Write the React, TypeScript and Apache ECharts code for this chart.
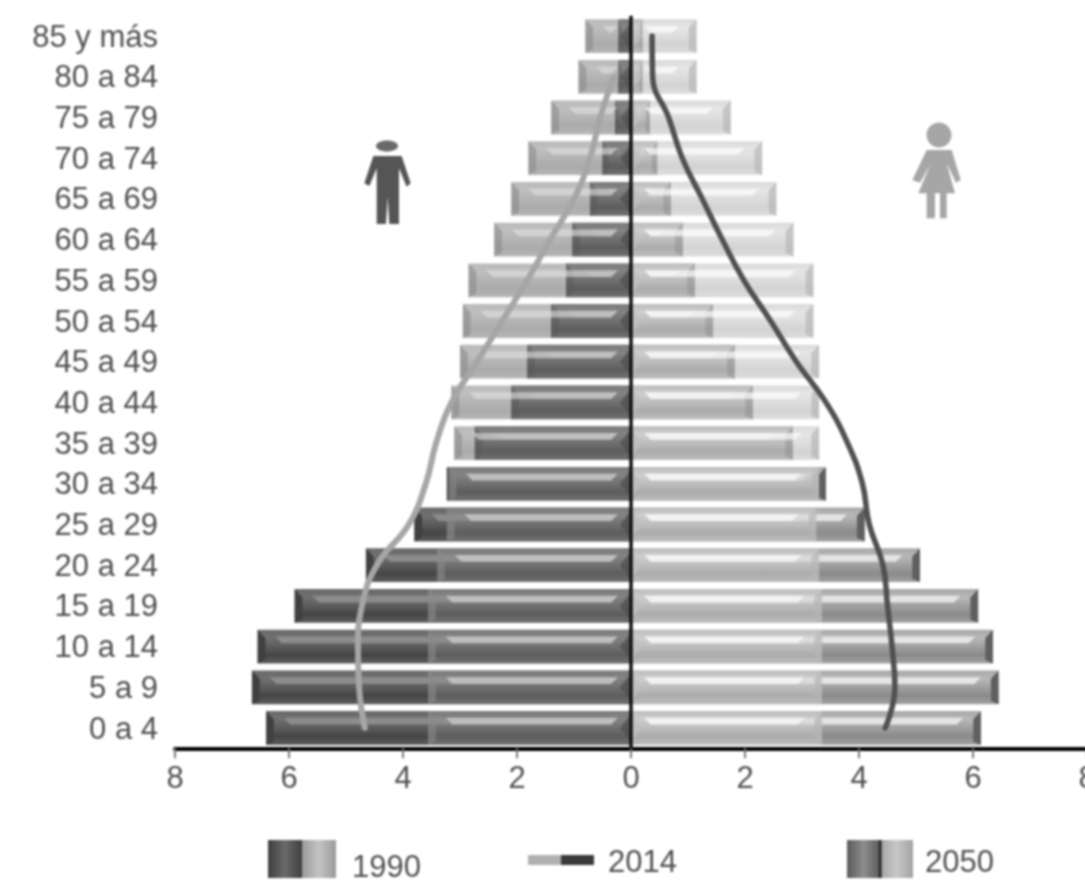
import React, { useEffect, useRef } from "react";
import * as echarts from "echarts";

const categories = ["0 a 4","5 a 9","10 a 14","15 a 19","20 a 24","25 a 29","30 a 34","35 a 39","40 a 44","45 a 49","50 a 54","55 a 59","60 a 64","65 a 69","70 a 74","75 a 79","80 a 84","85 y más"];
const male1990 = [6.4,6.65,6.55,5.9,4.65,3.8,3.23,2.74,2.1,1.82,1.4,1.14,1.03,0.72,0.5,0.28,0.22,0.22];
const female1990 = [6.14,6.45,6.35,6.09,5.07,4.1,3.42,2.84,2.14,1.82,1.44,1.12,0.91,0.7,0.46,0.33,0.2,0.2];
const male2050 = [3.56,3.56,3.56,3.56,3.4,3.23,3.2,3.1,3.15,3.0,2.95,2.85,2.4,2.1,1.8,1.4,0.92,0.8];
const female2050 = [3.35,3.35,3.35,3.35,3.3,3.25,3.3,3.3,3.3,3.3,3.2,3.2,2.85,2.55,2.3,1.75,1.15,1.15];
const male2014 = [4.67,4.77,4.79,4.72,4.46,3.9,3.6,3.42,3.15,2.7,2.26,1.82,1.42,1.0,0.72,0.54,0.3];
const female2014 = [4.46,4.63,4.58,4.5,4.42,4.18,4.06,3.8,3.42,2.9,2.45,1.98,1.6,1.25,0.9,0.66,0.38,0.37];
const xTicks = { min: -8, max: 8, interval: 2 };

const FONT = "Liberation Sans";
const TEXT = "#505050";

type Look = { stops: string[]; hi: string; cap: string; inner: string; opacity: number };
const looks: Record<string, Look> = {
  m1990: { stops: ["#6a6a6a", "#707070", "#5c5c5c", "#454545", "#5e5e5e"], hi: "#8c8c8c", cap: "#404040", inner: "#3c3c3c", opacity: 1 },
  f1990: { stops: ["#a8a8a8", "#b8b8b8", "#a0a0a0", "#8a8a8a", "#a2a2a2"], hi: "#e4e4e4", cap: "#5f5f5f", inner: "#8a8a8a", opacity: 1 },
  m2050: { stops: ["#8a8a8a", "#909090", "#7e7e7e", "#6e6e6e", "#828282"], hi: "#e2e2e2", cap: "#8a8a8a", inner: "#505050", opacity: 0.58 },
  f2050: { stops: ["#c8c8c8", "#d8d8d8", "#cccccc", "#bcbcbc", "#cccccc"], hi: "#ffffff", cap: "#b4b4b4", inner: "#c4c4c4", opacity: 0.66 },
};

const bevelBar = (look: Look) => (_: any, api: any) => {
  const v = api.value(0);
  const cat = api.value(1);
  const [x1, yc] = api.coord([v, cat]);
  const [x0] = api.coord([0, cat]);
  const h = api.size([0, 1])[1] * 0.83;
  const y0 = yc - h / 2;
  const y1 = yc + h / 2;
  const s = v < 0 ? -1 : 1;
  const w = Math.abs(x1 - x0);
  const b = Math.min(11, w * 0.3);
  const style = { opacity: look.opacity };
  const n = look.stops.length - 1;
  return {
    type: "group",
    children: [
      {
        type: "rect",
        shape: { x: Math.min(x0, x1), y: y0, width: w, height: h },
        style: {
          ...style,
          fill: new echarts.graphic.LinearGradient(0, 0, 0, 1, look.stops.map((color, i) => ({ offset: i / n, color }))),
        },
      },
      {
        type: "polygon",
        shape: { points: [[x0 + s * b * 1.2, y0 + h * 0.2], [x1 - s * b * 1.6, y0 + h * 0.2], [x1 - s * b * 2.2, y0 + h * 0.4], [x0 + s * b * 1.8, y0 + h * 0.4]] },
        style: { ...style, fill: look.hi },
      },
      {
        type: "polygon",
        shape: { points: [[x1, y0], [x1 - s * b * 0.7, y0 + h * 0.25], [x1 - s * b * 0.7, y1 - h * 0.1], [x1, y1]] },
        style: { ...style, fill: look.cap },
      },
      {
        type: "polygon",
        shape: { points: [[x0, y0 + h * 0.1], [x0 + s * b, yc], [x0, y1 - h * 0.1]] },
        style: { ...style, fill: look.inner },
      },
    ],
  };
};

const barSeries = (name: string, values: number[], sign: number, look: Look, z: number) => ({
  type: "custom",
  name,
  z,
  clip: false,
  encode: { x: 0, y: 1 },
  renderItem: bevelBar(look),
  data: values.map((v, i) => [sign * v, i]),
});

const lineSeries = (values: number[], sign: number, color: string, width: number) => ({
  type: "line",
  name: "2014",
  z: 6,
  smooth: 0.45,
  showSymbol: false,
  symbol: "none",
  lineStyle: { color, width, cap: "round" },
  data: values.map((v, i) => [sign * v, i]),
});

const px = (x0: number, y0: number, pts: number[][]) => pts.map(([x, y]) => [x0 + x / 3, y0 + y / 3]);

const manBody = [[70,468],[155,468],[182,550],[170,560],[147,505],[147,672],[118,672],[113,590],[108,672],[80,672],[80,505],[58,558],[43,550]];
const womanBody = [[905,450],[980,450],[1007,540],[993,548],[965,490],[990,580],[965,580],[965,655],[945,655],[945,580],[930,580],[930,655],[905,655],[905,580],[880,580],[915,495],[885,548],[862,540]];

const swatch = (x: number, y: number, w: number, h: number, left: string[], right: string[]) => [
  { type: "rect", shape: { x, y, width: w / 2, height: h }, style: { fill: new echarts.graphic.LinearGradient(0, 0, 1, 0, [{ offset: 0, color: left[0] }, { offset: 0.5, color: left[1] }, { offset: 1, color: left[0] }]) } },
  { type: "rect", shape: { x: x + w / 2, y, width: w / 2, height: h }, style: { fill: new echarts.graphic.LinearGradient(0, 0, 1, 0, [{ offset: 0, color: right[0] }, { offset: 0.5, color: right[1] }, { offset: 1, color: right[0] }]) } },
];

const legendText = (text: string, x: number, y: number) => ({
  type: "text",
  x,
  y,
  style: { text, font: `31px "${FONT}"`, fill: TEXT, textAlign: "left", textVerticalAlign: "middle" },
});

export default function App() {
  const ref = useRef<HTMLDivElement>(null);
  useEffect(() => {
    const chart = echarts.init(ref.current!, undefined, { renderer: "svg" });
    chart.setOption({
      animation: false,
      backgroundColor: "#ffffff",
      grid: { left: 175, top: 15.75, width: 912, height: 732.6 },
      xAxis: {
        type: "value",
        min: xTicks.min,
        max: xTicks.max,
        interval: xTicks.interval,
        splitLine: { show: false },
        axisLine: { show: true, lineStyle: { color: "#000000", width: 4 } },
        axisTick: { show: true, length: 10, lineStyle: { color: "#777777", width: 2 } },
        axisLabel: {
          color: TEXT,
          fontFamily: FONT,
          fontSize: 31,
          margin: 14,
          showMinLabel: true,
          showMaxLabel: true,
          formatter: (v: number) => String(Math.abs(v)),
        },
      },
      yAxis: {
        type: "category",
        data: categories,
        axisLine: { show: false, onZero: false },
        axisTick: { show: false },
        axisLabel: { interval: 0, color: TEXT, fontFamily: FONT, fontSize: 31, margin: 17 },
      },
      series: [
        barSeries("1990", male1990, -1, looks.m1990, 2),
        barSeries("1990", female1990, 1, looks.f1990, 2),
        barSeries("2050", male2050, -1, looks.m2050, 3),
        barSeries("2050", female2050, 1, looks.f2050, 3),
        {
          ...lineSeries(male2014, -1, "#a6a6a6", 6),
          markLine: {
            silent: true,
            symbol: "none",
            label: { show: false },
            lineStyle: { color: "#111111", width: 3.5, type: "solid" },
            data: [{ xAxis: 0 }],
          },
        },
        lineSeries(female2014, 1, "#505050", 5.5),
      ],
      graphic: [
        { type: "ellipse", shape: { cx: 387, cy: 146, rx: 11, ry: 5.5 }, style: { fill: "#6a6a6a" } },
        { type: "polygon", shape: { points: px(350, 0, manBody) }, style: { fill: "#555555" } },
        { type: "circle", shape: { cx: 939, cy: 135, r: 12.5 }, style: { fill: "#a6a6a6" } },
        { type: "polygon", shape: { points: px(625, 0, womanBody) }, style: { fill: "#a6a6a6" } },
        ...swatch(268, 840, 68, 38, ["#3e3e3e", "#6a6a6a"], ["#9a9a9a", "#c4c4c4"]),
        legendText("1990", 352, 866),
        { type: "rect", shape: { x: 528, y: 855, width: 33, height: 10 }, style: { fill: "#b0b0b0" } },
        { type: "rect", shape: { x: 561, y: 855, width: 33, height: 10 }, style: { fill: "#3a3a3a" } },
        legendText("2014", 608, 861),
        ...swatch(847, 840, 66, 38, ["#5a5a5a", "#8e8e8e"], ["#a2a2a2", "#c8c8c8"]),
        { type: "rect", shape: { x: 879, y: 840, width: 2.5, height: 38 }, style: { fill: "#222222" } },
        legendText("2050", 925, 861),
      ],
    });
    return () => chart.dispose();
  }, []);
  return (
    <div style={{ position: "fixed", left: 0, top: 0, width: 1085, height: 884, overflow: "hidden", background: "#fff" }}>
      <div ref={ref} style={{ width: 1110, height: 884, filter: "blur(0.9px)" }} />
    </div>
  );
}
